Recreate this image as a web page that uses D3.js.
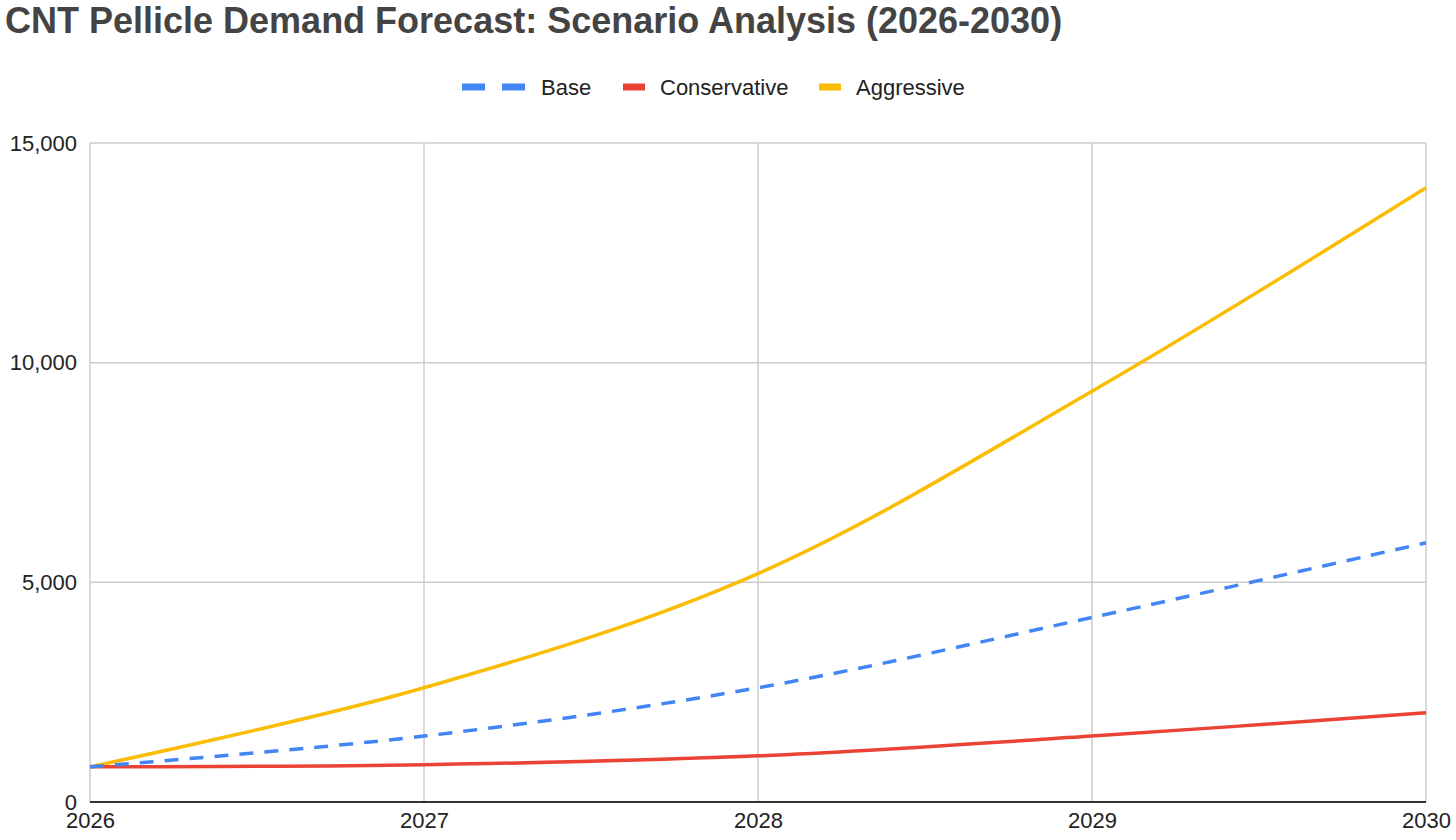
<!DOCTYPE html>
<html>
<head>
<meta charset="utf-8">
<script src="https://cdn.jsdelivr.net/npm/d3@7"></script>
<style>
  body { margin: 0; background: #fff; }
  text { font-family: "Liberation Sans", Arial, sans-serif; }
</style>
</head>
<body>
<script>
var years = [2026, 2027, 2028, 2029, 2030];
var base = [800, 1500, 2600, 4200, 5900];
var conservative = [800, 850, 1050, 1500, 2030];
var aggressive = [800, 2600, 5200, 9350, 13980];
var yTicks = [0, 5000, 10000, 15000];

var series = [
    {name: "Base", values: base, color: "#4285f4", dash: "14,11"},
    {name: "Conservative", values: conservative, color: "#ea4335", dash: null},
    {name: "Aggressive", values: aggressive, color: "#fbbc04", dash: null}
];

var width = 1456, height = 840;
var plotLeft = 90, plotRight = 1426, plotTop = 143, plotBottom = 802;

var svg = d3.select("body").append("svg")
    .attr("width", width)
    .attr("height", height);

svg.append("text")
    .attr("x", 5)
    .attr("y", 33)
    .attr("font-size", 36)
    .attr("font-weight", "bold")
    .attr("fill", "#444")
    .text("CNT Pellicle Demand Forecast: Scenario Analysis (2026-2030)");

var x = d3.scaleLinear().domain([2026, 2030]).range([plotLeft, plotRight]);
var y = d3.scaleLinear().domain([0, 15000]).range([plotBottom, plotTop]);

// gridlines
svg.append("g").selectAll("line")
    .data(yTicks.filter(function(d) { return d > 0; }))
    .enter().append("line")
    .attr("x1", plotLeft).attr("x2", plotRight)
    .attr("y1", function(d) { return y(d); })
    .attr("y2", function(d) { return y(d); })
    .attr("stroke", "#cccccc").attr("stroke-width", 1.5);

svg.append("g").selectAll("line")
    .data(years)
    .enter().append("line")
    .attr("x1", function(d) { return x(d); })
    .attr("x2", function(d) { return x(d); })
    .attr("y1", plotTop).attr("y2", plotBottom)
    .attr("stroke", "#cccccc").attr("stroke-width", 1.5);

// axes
var yAxis = d3.axisLeft(y).tickValues(yTicks).tickSize(0).tickPadding(13)
    .tickFormat(d3.format(","));
var yAxisGroup = svg.append("g").attr("transform", "translate(" + plotLeft + ",0)").call(yAxis);
yAxisGroup.select(".domain").remove();
yAxisGroup.attr("font-size", 22).attr("font-family", "Liberation Sans, Arial, sans-serif");
yAxisGroup.selectAll("text").attr("fill", "#222");

var xAxis = d3.axisBottom(x).tickValues(years).tickSize(0).tickPadding(10)
    .tickFormat(d3.format("d"));
var xAxisGroup = svg.append("g").attr("transform", "translate(0," + plotBottom + ")").call(xAxis);
xAxisGroup.select(".domain").remove();
xAxisGroup.attr("font-size", 22).attr("font-family", "Liberation Sans, Arial, sans-serif");
xAxisGroup.selectAll("text").attr("fill", "#222");

svg.append("line")
    .attr("x1", plotLeft).attr("x2", plotRight)
    .attr("y1", y(0)).attr("y2", y(0))
    .attr("stroke", "#333").attr("stroke-width", 2);

// lines
var line = d3.line()
    .x(function(d, i) { return x(years[i]); })
    .y(function(d) { return y(d); })
    .curve(d3.curveCatmullRom.alpha(0.5));

svg.append("g").selectAll("path")
    .data(series.slice().reverse())
    .enter().append("path")
    .attr("d", function(s) { return line(s.values); })
    .attr("fill", "none")
    .attr("stroke", function(s) { return s.color; })
    .attr("stroke-width", 3.5)
    .attr("stroke-dasharray", function(s) { return s.dash; });

// legend
var legendX = [462, 623, 819];
var lg = svg.append("g").selectAll("g")
    .data(series)
    .enter().append("g")
    .attr("transform", function(s, i) { return "translate(" + legendX[i] + ",87)"; });

lg.each(function(s) {
    var g = d3.select(this);
    if (s.dash) {
        g.append("rect").attr("x", 0).attr("y", -3.5).attr("width", 23).attr("height", 7).attr("fill", s.color);
        g.append("rect").attr("x", 40).attr("y", -3.5).attr("width", 23).attr("height", 7).attr("fill", s.color);
        g.append("text").attr("x", 79).attr("y", 8).attr("font-size", 22).attr("fill", "#222").text(s.name);
    } else {
        g.append("rect").attr("x", 0).attr("y", -3.5).attr("width", 22).attr("height", 7).attr("fill", s.color);
        g.append("text").attr("x", 37).attr("y", 8).attr("font-size", 22).attr("fill", "#222").text(s.name);
    }
});
</script>
</body>
</html>
